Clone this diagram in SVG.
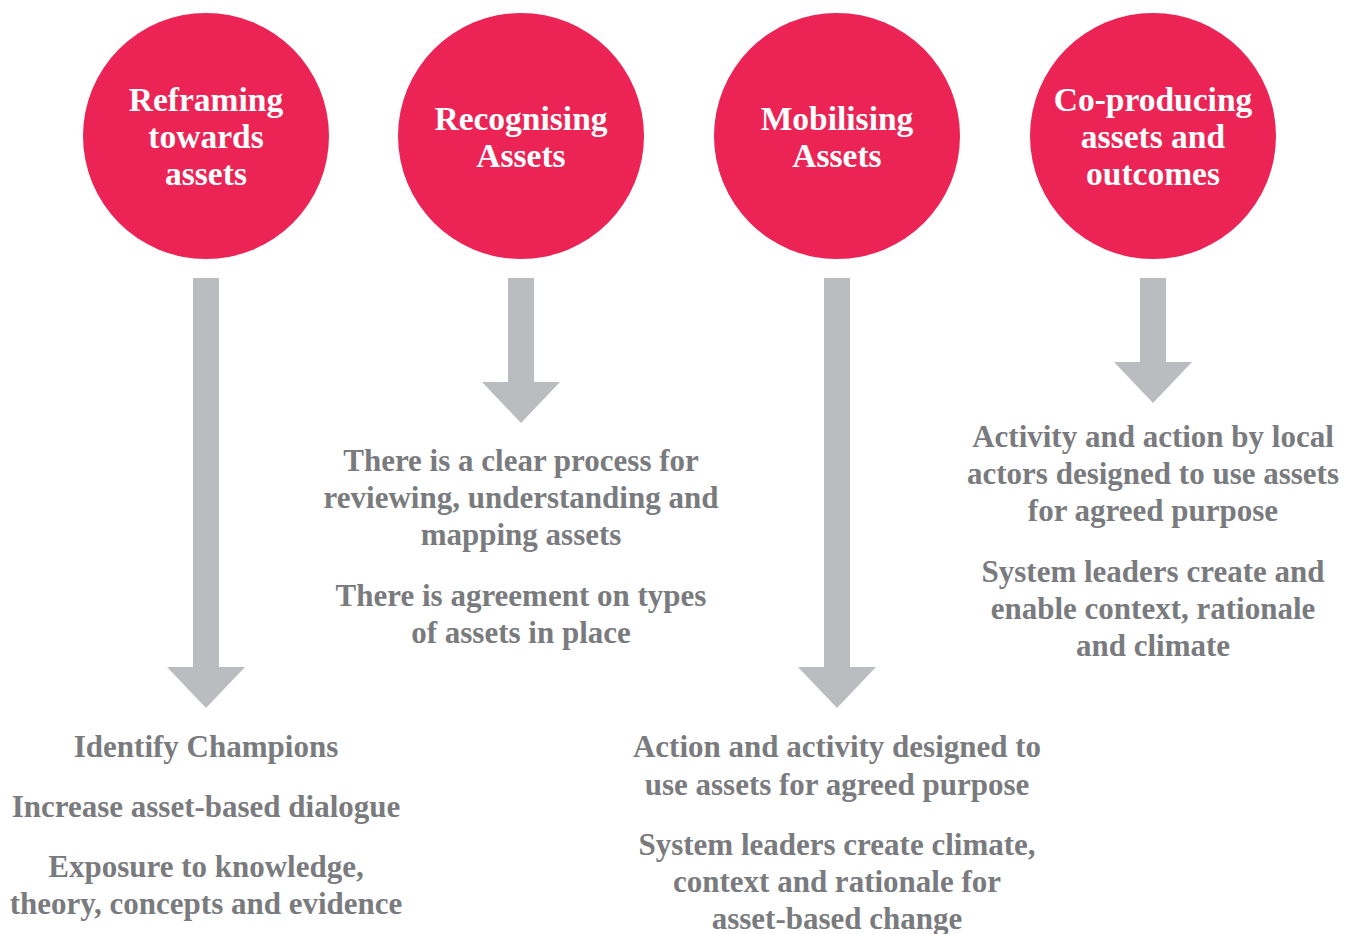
<svg xmlns="http://www.w3.org/2000/svg" width="1352" height="934" viewBox="0 0 1352 934">
<style>
.c{fill:#EC2355}
.ct{font-family:"Liberation Serif",serif;font-weight:bold;font-size:33.5px;fill:#fff;text-anchor:middle}
.t{font-family:"Liberation Serif",serif;font-weight:bold;font-size:31px;fill:#7A7B7E;text-anchor:middle}
.a{fill:#BBBCBF}
</style>
<rect width="1352" height="934" fill="#fff"/>
<g id="node1"><circle class="c" cx="206" cy="136" r="123"/>
<text class="ct"><tspan x="206" y="111">Reframing</tspan><tspan x="206" y="148">towards</tspan><tspan x="206" y="185">assets</tspan></text></g>
<g id="node2"><circle class="c" cx="521" cy="136" r="123"/>
<text class="ct"><tspan x="521" y="130">Recognising</tspan><tspan x="521" y="167">Assets</tspan></text></g>
<g id="node3"><circle class="c" cx="837" cy="136" r="123"/>
<text class="ct"><tspan x="837" y="130">Mobilising</tspan><tspan x="837" y="167">Assets</tspan></text></g>
<g id="node4"><circle class="c" cx="1153" cy="136" r="123"/>
<text class="ct"><tspan x="1153" y="111">Co-producing</tspan><tspan x="1153" y="148">assets and</tspan><tspan x="1153" y="185">outcomes</tspan></text></g>
<g id="connectors">
<polygon class="a" points="193,278 219,278 219,667 245,667 206,708 167,667 193,667"/>
<polygon class="a" points="508,278 534,278 534,382 560,382 521,423 482,382 508,382"/>
<polygon class="a" points="824,278 850,278 850,667 876,667 837,708 798,667 824,667"/>
<polygon class="a" points="1140,278 1166,278 1166,362 1192,362 1153,403 1114,362 1140,362"/>
</g>
<g id="text1"><text class="t"><tspan x="206" y="757">Identify Champions</tspan><tspan x="206" y="817">Increase asset-based dialogue</tspan><tspan x="206" y="877">Exposure to knowledge,</tspan><tspan x="206" y="914">theory, concepts and evidence</tspan></text></g>
<g id="text2"><text class="t"><tspan x="521" y="471">There is a clear process for</tspan><tspan x="521" y="508">reviewing, understanding and</tspan><tspan x="521" y="545">mapping assets</tspan><tspan x="521" y="606">There is agreement on types</tspan><tspan x="521" y="643">of assets in place</tspan></text></g>
<g id="text3"><text class="t"><tspan x="837" y="757">Action and activity designed to</tspan><tspan x="837" y="795">use assets for agreed purpose</tspan><tspan x="837" y="855">System leaders create climate,</tspan><tspan x="837" y="892">context and rationale for</tspan><tspan x="837" y="929">asset-based change</tspan></text></g>
<g id="text4"><text class="t"><tspan x="1153" y="447">Activity and action by local</tspan><tspan x="1153" y="484">actors designed to use assets</tspan><tspan x="1153" y="521">for agreed purpose</tspan><tspan x="1153" y="582">System leaders create and</tspan><tspan x="1153" y="619">enable context, rationale</tspan><tspan x="1153" y="656">and climate</tspan></text></g>
</svg>
